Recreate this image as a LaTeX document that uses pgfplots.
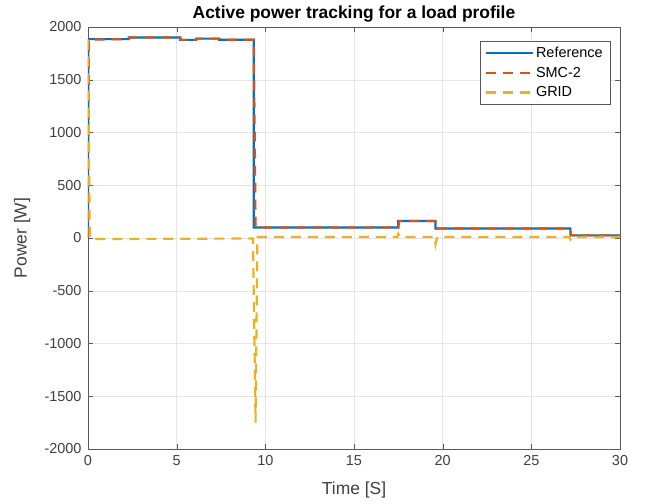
\documentclass[border=0pt]{standalone}
\usepackage{fontspec}
\setmainfont{Liberation Sans}
\usepackage{pgfplots}
\pgfplotsset{compat=1.18}
\definecolor{mblue}{HTML}{0072BD}
\definecolor{morange}{HTML}{D95319}
\definecolor{myellow}{HTML}{EDB120}
\begin{document}
\begin{tikzpicture}[x=1bp,y=1bp]
\begin{axis}[
    scale only axis,
    width=532bp, height=422bp,
    xmin=0, xmax=30, ymin=-2000, ymax=2000,
    xtick={0,5,...,30}, ytick={-2000,-1500,...,2000},
    grid=major,
    major grid style={gray!20, line width=0.5pt},
    axis line style={gray!70!black},
    tick style={gray!70!black},
    tick align=inside,
    major tick length=5bp,
    ticklabel style={font=\fontsize{14.5}{16}\selectfont, text=black!75},
    xticklabel style={yshift=-3bp},
    yticklabel style={xshift=-3bp},
    /pgf/number format/assume math mode=true,
    /pgf/number format/1000 sep={},
    title={\bfseries Active power tracking for a load profile},
    title style={font=\fontsize{17.5}{19}\selectfont, at={(rel axis cs:0.5,1)},
        anchor=base, yshift=3bp, inner sep=0pt},
    xlabel={Time [S]}, ylabel={Power [W]},
    label style={font=\fontsize{17.5}{19}\selectfont, text=black!75, inner sep=0pt},
    xlabel style={at={(rel axis cs:0.5,0)}, anchor=center, yshift=-41bp},
    ylabel style={at={(rel axis cs:0,0.5)}, anchor=center, yshift=66bp},
    legend cell align=left,
    legend image code/.code={\draw[#1] (0bp,0bp) -- (47bp,0bp);},
    legend style={at={(rel axis cs:0.981,0.967)}, anchor=north east, draw=gray!70!black,
        font=\fontsize{14.5}{16}\selectfont, row sep=4bp, inner xsep=5bp, inner ysep=4bp,
        nodes={inner xsep=2bp}},
]
\addplot[mblue, line width=2.2pt] coordinates {
 (0,0) (0.02,1885) (2.3,1885) (2.3,1900) (5.2,1900) (5.2,1878) (6.1,1878) (6.1,1890)
 (7.4,1890) (7.4,1880) (9.35,1880) (9.35,100) (17.5,100) (17.5,162) (19.6,162)
 (19.6,90) (27.2,90) (27.2,25) (30,25)};
\addlegendentry{Reference}
\addplot[morange, line width=2.2pt, dash pattern=on 10bp off 7bp] coordinates {
 (0,0) (0.05,1880) (2.3,1885) (2.35,1900) (5.2,1900) (5.25,1878) (6.1,1878) (6.15,1890)
 (7.4,1890) (7.45,1880) (9.35,1880) (9.45,100) (17.5,100) (17.55,162) (19.6,162)
 (19.65,90) (27.2,90) (27.25,25) (30,25)};
\addlegendentry{SMC-2}
\addplot[myellow, line width=2.2pt, dash pattern=on 10bp off 7bp] coordinates {
 (0,1880) (0.1,0) (0.3,-10) (9.3,-5) (9.45,-1750) (9.55,10) (17.45,10) (17.5,40)
 (17.6,10) (19.55,10) (19.6,-60) (19.7,10) (27.15,10) (27.2,-15) (27.3,10) (30,10)};
\addlegendentry{GRID}
\coordinate (bl) at (rel axis cs:0,0);
\coordinate (tr) at (rel axis cs:1,1);
\end{axis}
\path (bl) ++(-88bp,-55bp) rectangle ([shift={(27bp,27bp)}]tr);
\end{tikzpicture}
\end{document}
